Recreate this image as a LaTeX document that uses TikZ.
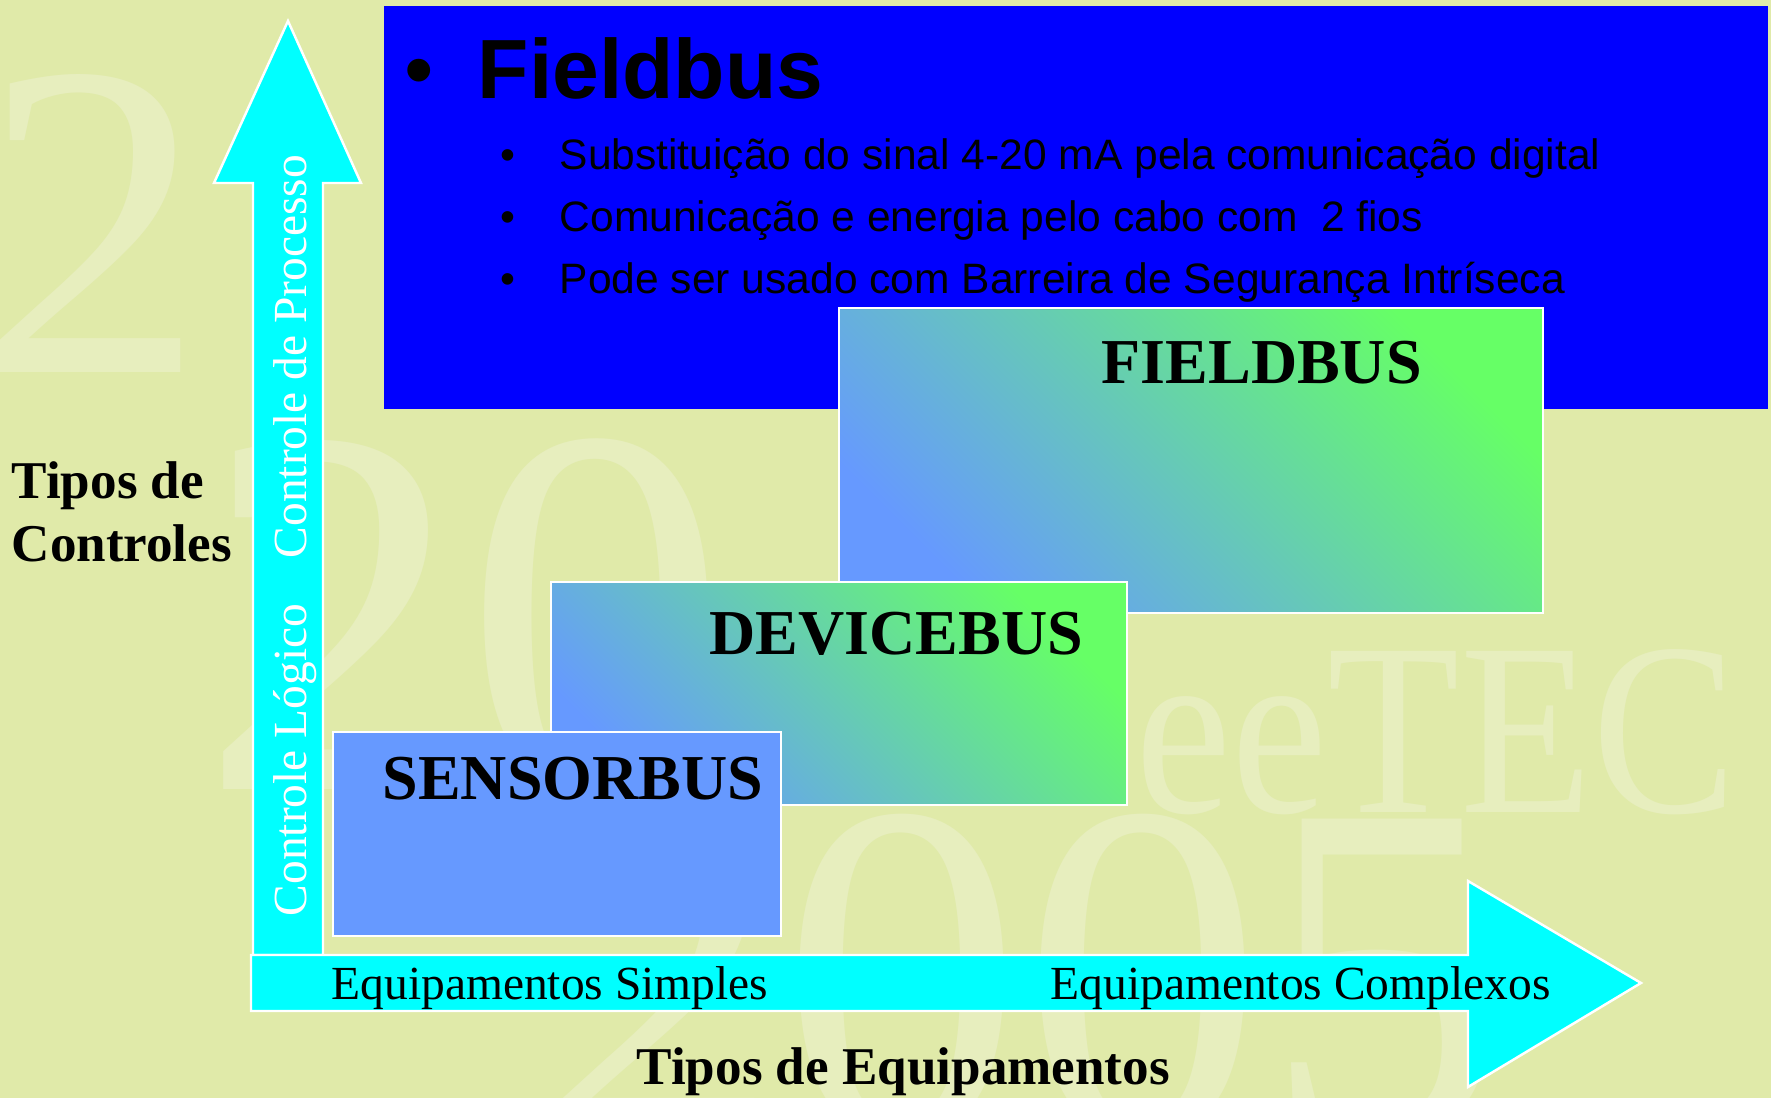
\documentclass[tikz,border=0pt]{standalone}
\usepackage{fontspec}
\setmainfont{Liberation Serif}
\newfontfamily\arialfont{Liberation Sans}
\definecolor{slidebg}{RGB}{224,234,169}
\definecolor{wmark}{RGB}{231,238,190}
\definecolor{topblue}{RGB}{0,0,255}
\definecolor{busblue}{RGB}{102,153,255}
\definecolor{busgreen}{RGB}{102,255,102}
\definecolor{axiscyan}{RGB}{0,255,255}

\begin{document}
\begin{tikzpicture}[x=0.01cm,y=-0.01cm,
    watermark/.style={anchor=base west,inner sep=0pt,text=wmark},
    axisarrow/.style={fill=axiscyan,draw=white,line width=0.7pt},
    busbox/.style={draw=white,line width=0.8pt},
    busgrad/.style={busbox,top color=busgreen,bottom color=busblue,shading angle=-45},
    busname/.style={anchor=base west,inner sep=0pt,font=\bfseries\fontsize{18.2}{20}\selectfont},
    axislabel/.style={anchor=base west,inner sep=0pt,font=\fontsize{13.5}{15}\selectfont},
    titlelabel/.style={anchor=base west,inner sep=0pt,font=\bfseries\fontsize{15.1}{17}\selectfont},
    itemdot/.style={anchor=base west,inner sep=0pt,font=\arialfont\fontsize{12.1}{14}\selectfont},
    itemtxt/.style={anchor=base west,inner sep=0pt,font=\arialfont\fontsize{12.1}{14}\selectfont}]
    \fill[slidebg] (0,0) rectangle (1771,1098);
    \useasboundingbox (0,0) rectangle (1771,1098);
    \clip (0,0) rectangle (1771,1098);
    % faint background lettering
    \node[watermark,font=\fontsize{128}{128}\selectfont] (wmleft) at (-20,373) {2};
    \node[watermark,font=\fontsize{150}{150}\selectfont] (wmmid) at (200,790) {20};
    \node[watermark,font=\fontsize{70}{70}\selectfont,xscale=0.88] (wmtec) at (1135,813) {eeTEC};
    \node[watermark,font=\fontsize{137}{137}\selectfont] (wmyear) at (540,1135) {2005};
    % title block
    \fill[topblue] (384,6) rectangle (1768,409);
    \node[anchor=base west,inner sep=0pt,font=\arialfont\fontsize{23.9}{26}\selectfont] (bigdot) at (404,99) {\textbullet};
    \node[anchor=base west,inner sep=0pt,font=\arialfont\bfseries\fontsize{23.9}{26}\selectfont] (title) at (477,99) {Fieldbus};
    \foreach \line [count=\i] in {Substituição do sinal 4-20 mA pela comunicação digital,
        Comunicação e energia pelo cabo com~ 2 fios,
        Pode ser usado com Barreira de Segurança Intríseca}{
        \node[itemdot] (dot\i) at (500,108+62*\i) {\textbullet};
        \node[itemtxt] (item\i) at (559,108+62*\i) {\line};
    }
    % axes
    \draw[axisarrow] (253,955) -- (253,183) -- (214,183) -- (288,21) -- (361,183) -- (323,183) -- (323,955) -- cycle;
    \draw[axisarrow] (251,955) -- (1468,955) -- (1468,881) -- (1641,983) -- (1468,1087) -- (1468,1011) -- (251,1011) -- cycle;
    \node[axislabel,text=white,rotate=90] (logico) at (306,917) {Controle Lógico};
    \node[axislabel,text=white,rotate=90] (processo) at (306,559) {Controle de Processo};
    \node[axislabel] (simples) at (331,1000) {Equipamentos Simples};
    \node[axislabel] (complexos) at (1050,1000) {Equipamentos Complexos};
    % bus levels
    \draw[busgrad] (839,308) rectangle (1543,613);
    \node[busname] (fieldbus) at (1101,384) {FIELDBUS};
    \draw[busgrad] (551,582) rectangle (1127,805);
    \node[busname] (devicebus) at (709,655) {DEVICEBUS};
    \draw[busbox,fill=busblue] (333,732) rectangle (781,936);
    \node[busname] (sensorbus) at (382,800) {SENSORBUS};
    % axis titles
    \node[titlelabel] (ctrltop) at (11,499) {Tipos de};
    \node[titlelabel] (ctrlbot) at (11,562) {Controles};
    \node[titlelabel] (equip) at (636,1085) {Tipos de Equipamentos};
\end{tikzpicture}
\end{document}
